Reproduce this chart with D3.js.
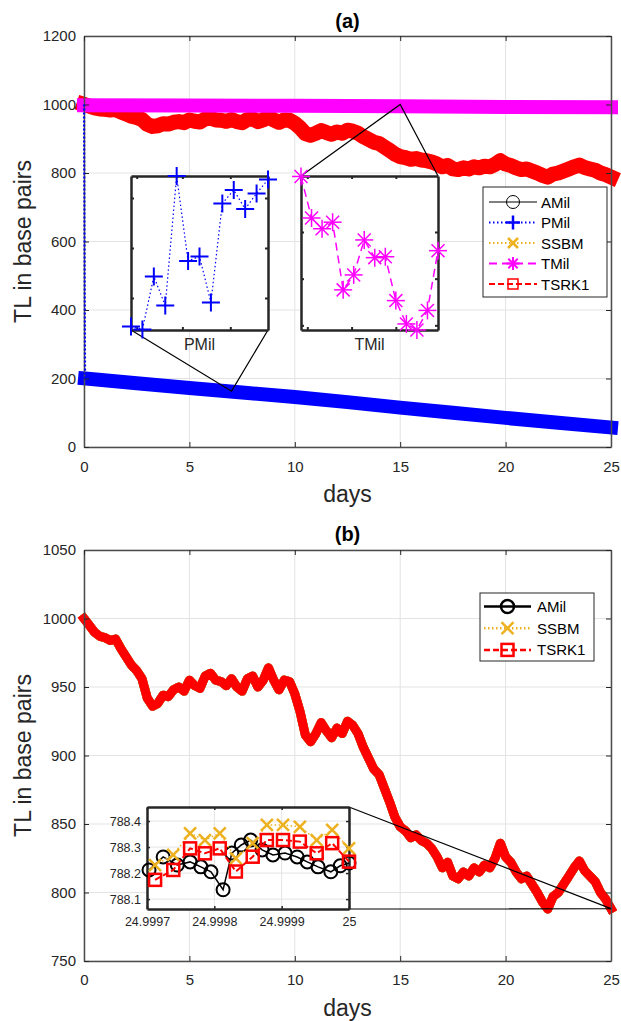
<!DOCTYPE html>
<html>
<head>
<meta charset="utf-8">
<script src="https://cdnjs.cloudflare.com/ajax/libs/d3/7.8.5/d3.min.js"></script>
<style>
  body { margin: 0; background: #fff; }
</style>
</head>
<body>
<svg id="chart" width="621" height="1021"></svg>
<script>

// ---- data ----

// sample path (days / TL); AMil, SSBM and TSRK1 sit on top of each other at this scale
const pathDays = [0, 0.25, 0.5, 0.75, 1, 1.25, 1.5, 1.75, 2, 2.25,
    2.5, 2.75, 3, 3.25, 3.5, 3.75, 4, 4.25, 4.5, 4.75,
    5, 5.25, 5.5, 5.75, 6, 6.25, 6.5, 6.75, 7, 7.25,
    7.5, 7.75, 8, 8.25, 8.5, 8.75, 9, 9.25, 9.5, 9.75,
    10, 10.25, 10.5, 10.75, 11, 11.25, 11.5, 11.75, 12, 12.25,
    12.5, 12.75, 13, 13.25, 13.5, 13.75, 14, 14.25, 14.5, 14.75,
    15, 15.25, 15.5, 15.75, 16, 16.25, 16.5, 16.75, 17, 17.25,
    17.5, 17.75, 18, 18.25, 18.5, 18.75, 19, 19.25, 19.5, 19.75,
    20, 20.25, 20.5, 20.75, 21, 21.25, 21.5, 21.75, 22, 22.25,
    22.5, 22.75, 23, 23.25, 23.5, 23.75, 24, 24.25, 24.5, 24.75,
    25]
const tsrkTL = [1000, 995, 990, 987, 986, 984, 985, 978, 972, 966,
    962, 956, 942, 936, 938, 944, 943, 948, 950, 947,
    955, 951, 949, 958, 960, 955, 954, 951, 956, 950,
    947, 956, 958, 950, 955, 964, 955, 948, 955, 954,
    945, 932, 915, 910, 916, 924, 918, 913, 920, 916,
    925, 922, 916, 906, 898, 890, 886, 876, 866, 855,
    848, 845, 840, 842, 838, 836, 832, 826, 818, 822,
    812, 810, 815, 812, 818, 815, 820, 818, 825, 836,
    826, 822, 815, 810, 812, 806, 800, 793, 788, 797,
    800, 806, 812, 818, 823, 816, 812, 808, 800, 795,
    788.2]
const amilTL = tsrkTL
const ssbmTL = tsrkTL

const pmilDays = [0, 0.05, 2.5, 5, 7.5, 10, 12.5, 15, 17.5, 20, 22.5, 25]
const pmilTL = [1000, 200, 186, 172, 159, 146, 131, 115, 100, 85, 71, 57]

const tmilDays = [0, 5, 10, 15, 20, 25]
const tmilTL = [998, 997, 996, 995, 993, 992]

// zoom on PMil around day 7
const pmilZoomDays = [7.0000, 7.0001, 7.0002, 7.0003, 7.0004, 7.0005, 7.0006,
    7.0007, 7.0008, 7.0009, 7.0010, 7.0011, 7.0012]
const pmilZoomTL = [161.43, 161.37, 162.43, 161.85, 164.44, 162.74, 162.83,
    161.91, 163.89, 164.16, 163.78, 164.09, 164.37]

// zoom on TMil around day 15
const tmilZoomDays = [15.0000, 15.0001, 15.0002, 15.0003, 15.0004, 15.0005, 15.0006,
    15.0007, 15.0008, 15.0009, 15.0010, 15.0011, 15.0012, 15.0013]
const tmilZoomTL = [1002.19, 1001.30, 1001.07, 1001.21, 999.76, 1000.08, 1000.83,
    1000.45, 1000.47, 999.53, 999.03, 998.90, 999.32, 1000.60]

// zoom on the last steps (panel b)
const amilZoomDays = [24.999703, 24.999724, 24.999745, 24.999764, 24.999780, 24.999795, 24.999813,
    24.999826, 24.999840, 24.999854, 24.999871, 24.999887, 24.999905, 24.999923,
    24.999938, 24.999954, 24.999973, 24.999987, 25.000000]
const amilZoomTL = [788.212, 788.262, 788.231, 788.243, 788.224, 788.205, 788.136,
    788.277, 788.308, 788.327, 788.289, 788.270, 788.277, 788.262,
    788.243, 788.224, 788.205, 788.228, 788.239]
const stepZoomDays = [24.999712, 24.999739, 24.999764, 24.999786, 24.999808, 24.999832, 24.999857,
    24.999878, 24.999902, 24.999927, 24.999952, 24.999975, 25.000000]
const ssbmZoomTL = [788.231, 788.270, 788.353, 788.327, 788.353, 788.257, 788.315,
    788.385, 788.385, 788.378, 788.327, 788.366, 788.295]
const tsrkZoomTL = [788.174, 788.212, 788.295, 788.276, 788.295, 788.206, 788.263,
    788.327, 788.327, 788.321, 788.276, 788.315, 788.244]

const dayTicks = [0, 5, 10, 15, 20, 25]
const tlTicksA = [0, 200, 400, 600, 800, 1000, 1200]
const tlTicksB = [750, 800, 850, 900, 950, 1000, 1050]
const pmilZoomXTicks = [7.00005, 7.00045, 7.00087]
const pmilZoomYTicks = [162, 163, 164]
const tmilZoomXTicks = [15.00006, 15.00048, 15.0009]
const tmilZoomYTicks = [999, 1000, 1001]
const endZoomXTicks = [24.9997, 24.9998, 24.9999, 25]
const endZoomYTicks = [788.1, 788.2, 788.3, 788.4]

const legendA = ['AMil', 'PMil', 'SSBM', 'TMil', 'TSRK1']
const legendB = ['AMil', 'SSBM', 'TSRK1']

// ---- styles ----
const font = '"Liberation Sans", Arial, Helvetica, sans-serif'
const axisColor = '#262626'
const gridColor = '#e3e3e3'
const colors = {AMil: '#000000', PMil: '#0000ff', SSBM: '#EDB120', TMil: '#ff00ff', TSRK1: '#ff0000'}
const markers = {AMil: 'circle', PMil: 'plus', SSBM: 'cross', TMil: 'star', TSRK1: 'square'}
const dashes = {AMil: null, PMil: '1.5,2.5', SSBM: '1.5,2.5', TMil: '8,5', TSRK1: '6,3'}

const svg = d3.select('#chart')

function marker(g, type, cx, cy, size, color, sw) {
    let h = size / 2
    if (type == 'circle') {
        g.append('circle').attr('cx', cx).attr('cy', cy).attr('r', h)
            .attr('fill', 'none').attr('stroke', color).attr('stroke-width', sw)
        return
    }
    if (type == 'square') {
        g.append('rect').attr('x', cx - h).attr('y', cy - h).attr('width', size).attr('height', size)
            .attr('fill', 'none').attr('stroke', color).attr('stroke-width', sw)
        return
    }
    let segs = []
    if (type == 'plus' || type == 'star') segs.push([-h, 0, h, 0], [0, -h, 0, h])
    if (type == 'cross' || type == 'star') {
        let d = type == 'star' ? h * 0.72 : h
        segs.push([-d, -d, d, d], [-d, d, d, -d])
    }
    segs.forEach(s => {
        g.append('line')
            .attr('x1', cx + s[0]).attr('y1', cy + s[1]).attr('x2', cx + s[2]).attr('y2', cy + s[3])
            .attr('stroke', color).attr('stroke-width', sw)
    })
}

function grid(g, x, y, xTicks, yTicks) {
    let [x0, x1] = x.range(), [y0, y1] = y.range()
    g.append('g').selectAll('line').data(xTicks).join('line')
        .attr('x1', d => x(d)).attr('x2', d => x(d)).attr('y1', y0).attr('y2', y1)
        .attr('stroke', gridColor)
    g.append('g').selectAll('line').data(yTicks).join('line')
        .attr('y1', d => y(d)).attr('y2', d => y(d)).attr('x1', x0).attr('x2', x1)
        .attr('stroke', gridColor)
}

function frame(g, x, y, xTicks, yTicks, o) {
    let [x0, x1] = x.range(), [y0, y1] = y.range()
    let fmt = o.labels ? d3.format('~g') : ''
    let f = g.append('g')
    f.append('g').attr('transform', `translate(0,${y0})`)
        .call(d3.axisBottom(x).tickValues(xTicks).tickSizeInner(-o.tick).tickSizeOuter(0)
            .tickPadding(o.padX).tickFormat(fmt))
    f.append('g').attr('transform', `translate(${x0},0)`)
        .call(d3.axisLeft(y).tickValues(yTicks).tickSizeInner(-o.tick).tickSizeOuter(0)
            .tickPadding(o.padY).tickFormat(fmt))
    f.append('g').attr('transform', `translate(0,${y1})`)
        .call(d3.axisTop(x).tickValues(xTicks).tickSizeInner(-o.tick).tickSizeOuter(0).tickFormat(''))
    f.append('g').attr('transform', `translate(${x1},0)`)
        .call(d3.axisRight(y).tickValues(yTicks).tickSizeInner(-o.tick).tickSizeOuter(0).tickFormat(''))
    f.selectAll('.domain').attr('stroke', o.boxColor).attr('stroke-width', o.lw)
    f.selectAll('.tick line').attr('stroke', axisColor).attr('stroke-width', o.tickW)
    f.selectAll('text').attr('font-size', o.fontSize).attr('font-family', font).attr('fill', axisColor)
}

function band(g, x, y, days, vals, color, width) {
    let line = d3.line().x((d, i) => x(days[i])).y(d => y(d))
    g.append('path').datum(vals).attr('d', line)
        .attr('fill', 'none').attr('stroke', color).attr('stroke-width', width)
        .attr('stroke-linejoin', 'round').attr('stroke-linecap', 'square')
}

function series(g, x, y, days, vals, name, o) {
    let line = d3.line().x((d, i) => x(days[i])).y(d => y(d))
    g.append('path').datum(vals).attr('d', line)
        .attr('fill', 'none').attr('stroke', colors[name]).attr('stroke-width', o.lw)
        .attr('stroke-dasharray', dashes[name])
    vals.forEach((v, i) => marker(g, markers[name], x(days[i]), y(v), o.size, colors[name], o.sw))
}

function axisText(g, cx, cy, txt, size, rotate, bold) {
    g.append('text')
        .attr('transform', `translate(${cx},${cy})` + (rotate ? ' rotate(-90)' : ''))
        .attr('text-anchor', 'middle')
        .attr('font-family', font).attr('font-size', size)
        .attr('font-weight', bold ? 'bold' : 'normal')
        .attr('fill', bold ? '#000' : axisColor)
        .text(txt)
}

function legend(g, names, box, rows, o) {
    g.append('rect').attr('x', box[0]).attr('y', box[1]).attr('width', box[2]).attr('height', box[3])
        .attr('fill', '#fff').attr('stroke', axisColor).attr('stroke-width', 1)
    names.forEach((n, i) => {
        let cy = rows[0] + i * rows[1]
        g.append('line').attr('x1', o.x0).attr('x2', o.x1).attr('y1', cy).attr('y2', cy)
            .attr('stroke', colors[n]).attr('stroke-width', o.lw[n])
            .attr('stroke-dasharray', dashes[n])
        marker(g, markers[n], (o.x0 + o.x1) / 2, cy, o.size[n], colors[n], o.sw[n])
        g.append('text').attr('x', o.tx).attr('y', cy + 5.5)
            .attr('font-family', font).attr('font-size', 15).attr('fill', '#000')
            .text(n)
    })
}

// ================= panel (a) =================
const xA = d3.scaleLinear().domain([0, 25]).range([84, 611])
const yA = d3.scaleLinear().domain([0, 1200]).range([447, 36])
const gA = svg.append('g')

grid(gA, xA, yA, dayTicks, tlTicksA)

// dense markers of each model drawn as thick bands
band(gA, xA, yA, pathDays, amilTL, colors.AMil, 13)
band(gA, xA, yA, pmilDays.slice(1), pmilTL.slice(1), colors.PMil, 14)
band(gA, xA, yA, pathDays, ssbmTL, colors.SSBM, 14)
band(gA, xA, yA, pathDays, tsrkTL, colors.TSRK1, 15)
band(gA, xA, yA, tmilDays, tmilTL, colors.TMil, 14)

frame(gA, xA, yA, dayTicks, tlTicksA,
    {labels: true, tick: 5, padX: 14, padY: 8, lw: 1.5, tickW: 1, fontSize: 15, boxColor: '#4d4d4d'})

// PMil initial jump (dotted), sits on top of the y axis
let pLine = d3.line().x((d, i) => xA(pmilDays[i])).y(d => yA(d))
gA.append('path').datum(pmilTL.slice(0, 2)).attr('d', pLine)
    .attr('fill', 'none').attr('stroke', colors.PMil).attr('stroke-width', 2.2)
    .attr('stroke-dasharray', '2,2')

// inset boxes in panel (a)
const pBox = {x0: 131, x1: 268, y0: 330, y1: 176}
const tBox = {x0: 301, x1: 438, y0: 330, y1: 176}
const xP = d3.scaleLinear().domain([7.0000, 7.0012]).range([pBox.x0, pBox.x1])
const yP = d3.scaleLinear().domain([161.36, 164.44]).range([pBox.y0, pBox.y1])
const xT = d3.scaleLinear().domain([15.0000, 15.0013]).range([tBox.x0, tBox.x1])
const yT = d3.scaleLinear().domain([998.9, 1002.2]).range([tBox.y0, tBox.y1])

// connectors to the zoomed spots
const conn = gA.append('g').attr('stroke', '#000').attr('stroke-width', 1.2).attr('fill', 'none')
conn.append('polyline').attr('points', [[pBox.x0, pBox.y0], [xA(7), yA(163)], [pBox.x1, pBox.y0]].join(' '))
conn.append('polyline').attr('points', [[tBox.x0, tBox.y1], [xA(15), yA(1000)], [tBox.x1, tBox.y1]].join(' '))

function insetA(box, x, y, xTicks, yTicks, days, vals, name, label) {
    let g = gA.append('g')
    g.append('rect').attr('x', box.x0).attr('y', box.y1)
        .attr('width', box.x1 - box.x0).attr('height', box.y0 - box.y1).attr('fill', '#fff')
    frame(g, x, y, xTicks, yTicks,
        {labels: false, tick: 3, padX: 0, padY: 0, lw: 2.5, tickW: 2, fontSize: 12, boxColor: axisColor})
    series(g, x, y, days, vals, name,
        {lw: name == 'PMil' ? 1.2 : 1.5, size: 18, sw: name == 'PMil' ? 2 : 1.5})
    g.append('text').attr('x', (box.x0 + box.x1) / 2).attr('y', box.y0 + 20)
        .attr('text-anchor', 'middle').attr('font-family', font).attr('font-size', 16)
        .attr('fill', axisColor).text(label)
}
insetA(pBox, xP, yP, pmilZoomXTicks, pmilZoomYTicks, pmilZoomDays, pmilZoomTL, 'PMil', 'PMil')
insetA(tBox, xT, yT, tmilZoomXTicks, tmilZoomYTicks, tmilZoomDays, tmilZoomTL, 'TMil', 'TMil')

legend(gA, legendA, [483, 187, 124, 110], [202, 20.5],
    {x0: 489, x1: 537, tx: 541,
     lw: {AMil: 1, PMil: 2, SSBM: 2, TMil: 2, TSRK1: 2},
     size: {AMil: 13, PMil: 14, SSBM: 10, TMil: 13, TSRK1: 10},
     sw: {AMil: 1, PMil: 2.5, SSBM: 2.5, TMil: 2, TSRK1: 1.5}})

axisText(gA, 347.5, 28, '(a)', 20, false, true)
axisText(gA, 347.5, 502, 'days', 23, false, false)
axisText(gA, 31, 241.5, 'TL in base pairs', 23, true, false)

// ================= panel (b) =================
const xB = d3.scaleLinear().domain([0, 25]).range([84, 611])
const yB = d3.scaleLinear().domain([750, 1050]).range([961, 550])
const gB = svg.append('g')

grid(gB, xB, yB, dayTicks, tlTicksB)
band(gB, xB, yB, pathDays, amilTL, colors.AMil, 9)
band(gB, xB, yB, pathDays, ssbmTL, colors.SSBM, 9)
band(gB, xB, yB, pathDays, tsrkTL, colors.TSRK1, 9)

frame(gB, xB, yB, dayTicks, tlTicksB,
    {labels: true, tick: 5, padX: 13, padY: 8, lw: 1.5, tickW: 1, fontSize: 15, boxColor: '#4d4d4d'})

// inset of the final steps
const eBox = {x0: 147, x1: 349, y0: 909, y1: 807}
const xE = d3.scaleLinear().domain([24.9997, 25]).range([eBox.x0, eBox.x1])
const yE = d3.scaleLinear().domain([788.062, 788.454]).range([eBox.y0, eBox.y1])

const connB = gB.append('g').attr('stroke', '#000').attr('stroke-width', 1.2).attr('fill', 'none')
connB.append('polyline').attr('points',
    [[eBox.x1, eBox.y1], [xB(25), yB(788.2)], [eBox.x1, eBox.y0]].join(' '))

const gE = gB.append('g')
gE.append('rect').attr('x', eBox.x0).attr('y', eBox.y1)
    .attr('width', eBox.x1 - eBox.x0).attr('height', eBox.y0 - eBox.y1).attr('fill', '#fff')
grid(gE, xE, yE, endZoomXTicks, endZoomYTicks)
frame(gE, xE, yE, endZoomXTicks, endZoomYTicks,
    {labels: true, tick: 3, padX: 8, padY: 6, lw: 2.5, tickW: 1.5, fontSize: 12.5, boxColor: axisColor})
series(gE, xE, yE, amilZoomDays, amilZoomTL, 'AMil', {lw: 1.5, size: 13, sw: 2})
series(gE, xE, yE, stepZoomDays, ssbmZoomTL, 'SSBM', {lw: 1.5, size: 12, sw: 2.5})
series(gE, xE, yE, stepZoomDays, tsrkZoomTL, 'TSRK1', {lw: 2, size: 12, sw: 2.5})

legend(gB, legendB, [480, 593, 114, 68], [606.5, 21.7],
    {x0: 484, x1: 531, tx: 537,
     lw: {AMil: 2.5, SSBM: 2.5, TSRK1: 2.5},
     size: {AMil: 13, SSBM: 12, TSRK1: 12},
     sw: {AMil: 2.5, SSBM: 2.5, TSRK1: 2.5}})

axisText(gB, 347.5, 541, '(b)', 20, false, true)
axisText(gB, 347.5, 1016, 'days', 23, false, false)
axisText(gB, 31, 755.5, 'TL in base pairs', 23, true, false)

</script>
</body>
</html>
